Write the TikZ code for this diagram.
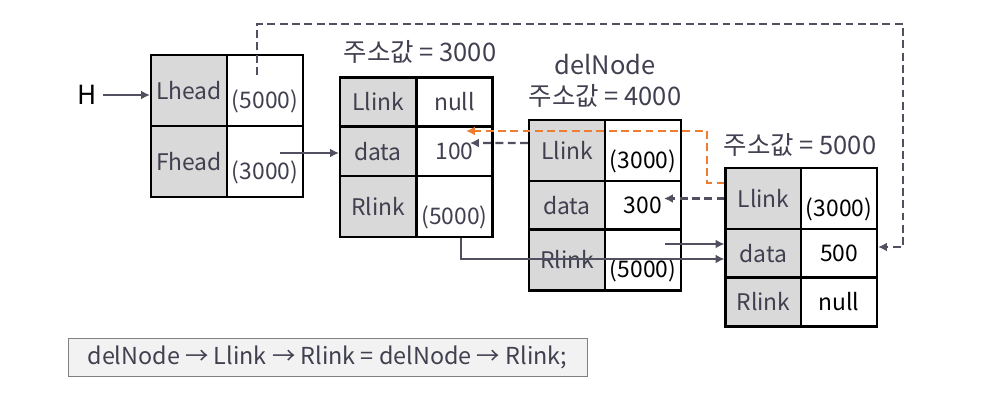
\documentclass[tikz,border=0pt]{standalone}
\usepackage{fontspec}
\setmainfont{Noto Sans CJK KR}
\usetikzlibrary{arrows.meta}
\definecolor{cellgray}{RGB}{217,217,217}
\definecolor{txtgray}{RGB}{64,64,80}
\definecolor{linegray}{RGB}{80,80,96}
\definecolor{auorange}{RGB}{237,125,49}
\definecolor{codefill}{RGB}{242,242,242}

\begin{document}
\begin{tikzpicture}[
x=0.02cm, y=-0.02cm,
font=\fontsize{13}{15}\selectfont,
key/.style = {
	draw, line width=1.2pt,
	fill=cellgray, text=txtgray,
	minimum width=1.52cm, inner sep=0pt
	},
val/.style = {
	draw, line width=1.2pt,
	fill=white, text=txtgray,
	minimum width=1.52cm, inner sep=0pt
	},
headrow/.style = {
	minimum height=1.42cm
	},
tall/.style = {
	minimum height=1.22cm
	},
short/.style = {
	minimum height=0.98cm
	},
low/.style = {
	text height=0.8cm
	},
addr/.style = {
	align=center,
	text=txtgray,
	font=\fontsize{14.5}{17}\selectfont
	},
ptrArr/.style = {
	-{Latex[length=5pt,width=5pt]},
	line width=1.3pt, linegray
	},
dashArr/.style = {
	ptrArr,
	dash pattern=on 4.5pt off 2.5pt
	},
oldArr/.style = {
	dashArr,
	auorange
	}
]
\useasboundingbox (0,0) rectangle (999,408);

% ADDRESS LABELS
\node [addr] (addr1) at (420,52) {주소값 = 3000};
\node [addr] (del) at (605,65) {delNode};
\node [addr] (addr2) at (605,96) {주소값 = 4000};
\node [addr] (addr3) at (800,145) {주소값 = 5000};

% HEAD NODE
\node (H) [font=\fontsize{15}{18}\selectfont] at (87,95) {H};
\node [key, headrow] (hL) at (189,90.5) {Lhead};
\node [val, headrow, low] (hLv) at (265,90.5) {(5000)};
\node [key, headrow] (hF) at (189,161.5) {Fhead};
\node [val, headrow, low] (hFv) at (265,161.5) {(3000)};

% NODE 3000
\node [key, short] (n1L) at (378,102) {Llink};
\node [val, short] (n1Lv) at (454.5,102) {null};
\node [key, short] (n1d) at (378,151.5) {data};
\node [val, short] (n1dv) at (454.5,151.5) {100};
\node [key, tall] (n1R) at (378,206.5) {Rlink};
\node [val, tall, low] (n1Rv) at (454.5,206.5) {(5000)};

% NODE 4000 (delNode)
\node [key, tall] (n2L) at (567,150.5) {Llink};
\node [val, tall, low, text=black] (n2Lv) at (643,150.5) {(3000)};
\node [key, short] (n2d) at (567,205.5) {data};
\node [val, short, text=black] (n2dv) at (643,205.5) {300};
\node [key, tall] (n2R) at (567,260) {Rlink};
\node [val, tall, low, text=black] (n2Rv) at (643,260) {(5000)};

% NODE 5000
\node [key, tall] (n3L) at (763.5,198.5) {Llink};
\node [val, tall, low, text=black] (n3Lv) at (839,198.5) {(3000)};
\node [key, short] (n3d) at (763.5,253.5) {data};
\node [val, short, text=black] (n3dv) at (839,253.5) {500};
\node [key, short] (n3R) at (763.5,302) {Rlink};
\node [val, short, text=black] (n3Rv) at (839,302) {null};

% CODE
\node [draw=gray, fill=codefill, minimum width=10.38cm, minimum height=0.76cm,
	text=txtgray, font=\fontsize{13.3}{16}\selectfont] (code) at (327.5,357)
	{delNode → Llink → Rlink = delNode → Rlink;};

% HELPER POINTS
\coordinate (lhStart) at (257,75);
\coordinate (topR) at (903,24);
\coordinate (fhStart) at (280,153);
\coordinate (n1dTip) at (470,143);
\coordinate (orBend) at (707,131);
\coordinate (orTip) at (466,131);
\coordinate (n2dTip) at (664,199);
\coordinate (n2rStart) at (665,244);

% PATHS
\draw [ptrArr] (H) to (H -| hL.west);
\draw [dashArr] (lhStart) |- (topR) |- ([yshift=0.13cm]n3dv.east);
\draw [ptrArr] (fhStart) to (fhStart -| n1d.west);
\draw [ptrArr] ([xshift=0.13cm]n1Rv.south) |- ([yshift=-0.11cm]n3d.west);
\draw [ptrArr] (n2rStart) to (n2rStart -| n3d.west);
\draw [dashArr] ([yshift=0.15cm]n2L.west) to (n1dTip);
\draw [dashArr] (n3L.west) to (n3L.west -| n2dTip);
\draw [oldArr] ([yshift=0.31cm]n3L.west) -| (orBend) to (orTip);
\end{tikzpicture}
\end{document}
